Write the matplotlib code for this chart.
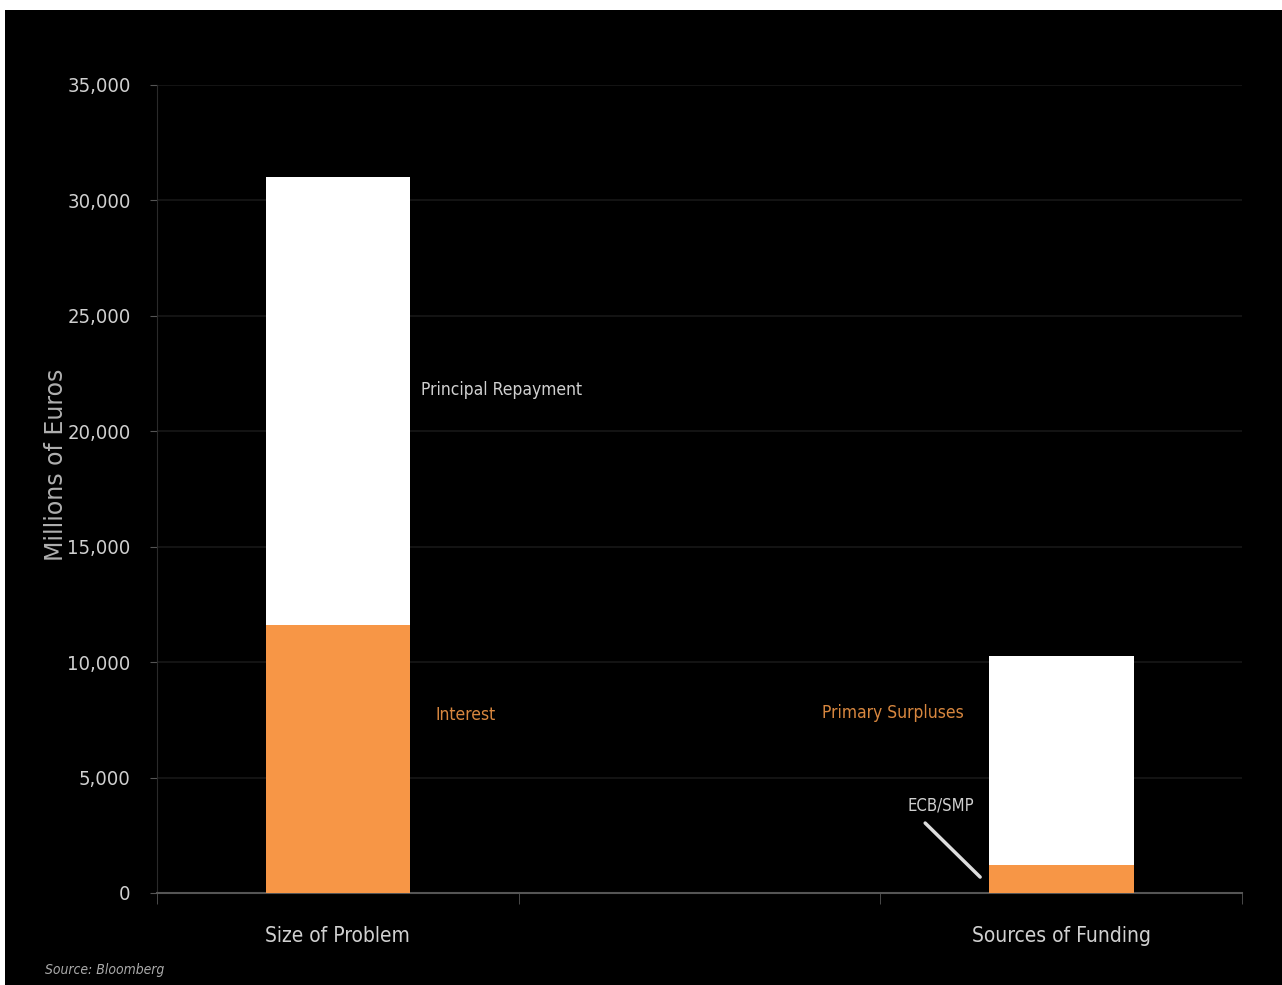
import matplotlib
matplotlib.use("Agg")
import matplotlib.pyplot as plt
from matplotlib.patches import Rectangle

categories = ["Size of Problem", "", "Sources of Funding"]
bottom_vals = [11600, 0, 1200]      # Interest / ECB-SMP (orange)
top_vals = [19400, 0, 9050]         # Principal Repayment / Primary Surpluses (white)
yticks = [0, 5000, 10000, 15000, 20000, 25000, 30000, 35000]
ytick_labels = ["0", "5,000", "10,000", "15,000", "20,000", "25,000", "30,000", "35,000"]

ORANGE = "#F79646"
TXT = "#d0d0d0"
NARROW = ["Liberation Sans Narrow", "DejaVu Sans"]
ST = "condensed"

fig = plt.figure(figsize=(12.82, 9.85), dpi=100, facecolor="black")
# white borders (top strip, left strip)
fig.patches.append(Rectangle((0, 1 - 10 / 985), 1, 10 / 985, transform=fig.transFigure,
                             facecolor="white", edgecolor="none", zorder=10))
fig.patches.append(Rectangle((0, 0), 5 / 1282, 1, transform=fig.transFigure,
                             facecolor="white", edgecolor="none", zorder=10))

ax = fig.add_axes([157 / 1282, 1 - 893 / 985, (1242 - 157) / 1282, (893 - 85) / 985])
ax.set_facecolor("black")

x = list(range(len(categories)))
ax.bar(x, bottom_vals, width=0.4, color=ORANGE, zorder=3)
ax.bar(x, top_vals, width=0.4, bottom=bottom_vals, color="white", zorder=3)

ax.set_xlim(-0.5, len(categories) - 0.5)
ax.set_ylim(0, 35000)
ax.set_yticks(yticks)
ax.set_yticklabels(ytick_labels, family=NARROW, fontstretch=ST, fontsize=14.5, color=TXT)
ax.set_xticks(x)
ax.set_xticklabels(categories, family=NARROW, fontstretch=ST, fontsize=15, color=TXT)
ax.tick_params(axis="x", which="major", length=0, pad=24)
ax.set_xticks([i - 0.5 for i in range(len(categories) + 1)], minor=True)
ax.tick_params(axis="x", which="minor", length=8, color="#555555", direction="out")
ax.tick_params(axis="y", length=5, color="#555555", direction="out", pad=14)

ax.grid(axis="y", color="#181818", linewidth=1.2, zorder=0)
for s in ["top", "right"]:
    ax.spines[s].set_visible(False)
ax.spines["bottom"].set_color("#555555")
ax.spines["left"].set_color("#2a2a2a")
ax.spines["bottom"].set_linewidth(1.5)

ax.set_ylabel("Millions of Euros", family="DejaVu Sans", fontsize=17, color="#b0b0b0")
ax.yaxis.set_label_coords(-0.082, 0.53)

# segment labels
ax.text(0.23, 21800, "Principal Repayment", family=NARROW, fontstretch=ST, fontsize=12.5, color=TXT, va="center")
ax.text(0.27, 7700, "Interest", family=NARROW, fontstretch=ST, fontsize=12.5, color="#d8873f", va="center")
ax.text(1.34, 7800, "Primary Surpluses", family=NARROW, fontstretch=ST, fontsize=12.5, color="#d8873f", va="center")
ax.text(1.668, 3810, "ECB/SMP", family=NARROW, fontstretch=ST, fontsize=12, color=TXT, ha="center", va="center")
ax.annotate("", xy=(1.776, 690), xytext=(1.624, 3030),
            arrowprops=dict(arrowstyle="-", color="#dddddd", lw=2.5, shrinkA=0, shrinkB=0))

fig.text(45 / 1282, 1 - 970 / 985, "Source: Bloomberg", family=NARROW, fontstretch=ST, style="italic",
         fontsize=10, color="#aaaaaa", va="center")

fig.savefig("out.png", dpi=100, facecolor=fig.get_facecolor())
